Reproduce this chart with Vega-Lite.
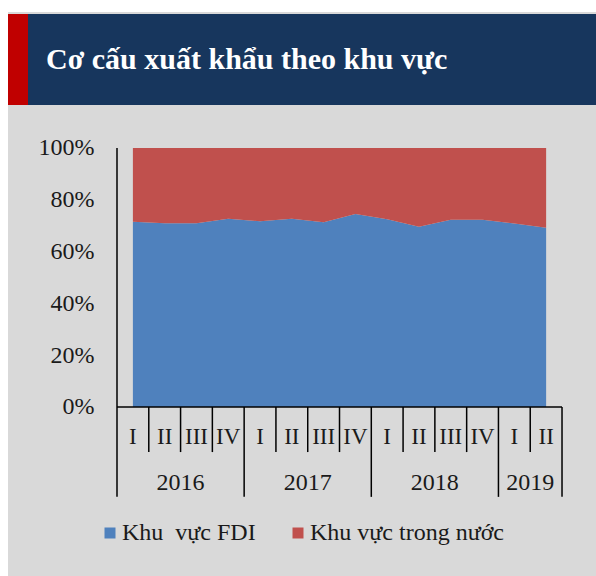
{
  "$schema": "https://vega.github.io/schema/vega-lite/v6.json",
  "background": "#ffffff",
  "padding": {"left": 8, "top": 12, "right": 0, "bottom": 0},
  "spacing": 0,
  "config": {"font": "Liberation Serif", "view": {"stroke": null}},
  "datasets": {
    "shares": [
      {"idx": 0, "year": "2016", "quarter": "I", "sector": "Khu \u00a0vực FDI", "share": 71.5},
      {"idx": 1, "year": "2016", "quarter": "II", "sector": "Khu \u00a0vực FDI", "share": 70.9},
      {"idx": 2, "year": "2016", "quarter": "III", "sector": "Khu \u00a0vực FDI", "share": 70.9},
      {"idx": 3, "year": "2016", "quarter": "IV", "sector": "Khu \u00a0vực FDI", "share": 72.7},
      {"idx": 4, "year": "2017", "quarter": "I", "sector": "Khu \u00a0vực FDI", "share": 71.7},
      {"idx": 5, "year": "2017", "quarter": "II", "sector": "Khu \u00a0vực FDI", "share": 72.7},
      {"idx": 6, "year": "2017", "quarter": "III", "sector": "Khu \u00a0vực FDI", "share": 71.3},
      {"idx": 7, "year": "2017", "quarter": "IV", "sector": "Khu \u00a0vực FDI", "share": 74.5},
      {"idx": 8, "year": "2018", "quarter": "I", "sector": "Khu \u00a0vực FDI", "share": 72.5},
      {"idx": 9, "year": "2018", "quarter": "II", "sector": "Khu \u00a0vực FDI", "share": 69.6},
      {"idx": 10, "year": "2018", "quarter": "III", "sector": "Khu \u00a0vực FDI", "share": 72.3},
      {"idx": 11, "year": "2018", "quarter": "IV", "sector": "Khu \u00a0vực FDI", "share": 72.3},
      {"idx": 12, "year": "2019", "quarter": "I", "sector": "Khu \u00a0vực FDI", "share": 70.8},
      {"idx": 13, "year": "2019", "quarter": "II", "sector": "Khu \u00a0vực FDI", "share": 69.2},
      {"idx": 0, "year": "2016", "quarter": "I", "sector": "Khu vực trong nước", "share": 28.5},
      {"idx": 1, "year": "2016", "quarter": "II", "sector": "Khu vực trong nước", "share": 29.1},
      {"idx": 2, "year": "2016", "quarter": "III", "sector": "Khu vực trong nước", "share": 29.1},
      {"idx": 3, "year": "2016", "quarter": "IV", "sector": "Khu vực trong nước", "share": 27.3},
      {"idx": 4, "year": "2017", "quarter": "I", "sector": "Khu vực trong nước", "share": 28.3},
      {"idx": 5, "year": "2017", "quarter": "II", "sector": "Khu vực trong nước", "share": 27.3},
      {"idx": 6, "year": "2017", "quarter": "III", "sector": "Khu vực trong nước", "share": 28.7},
      {"idx": 7, "year": "2017", "quarter": "IV", "sector": "Khu vực trong nước", "share": 25.5},
      {"idx": 8, "year": "2018", "quarter": "I", "sector": "Khu vực trong nước", "share": 27.5},
      {"idx": 9, "year": "2018", "quarter": "II", "sector": "Khu vực trong nước", "share": 30.4},
      {"idx": 10, "year": "2018", "quarter": "III", "sector": "Khu vực trong nước", "share": 27.7},
      {"idx": 11, "year": "2018", "quarter": "IV", "sector": "Khu vực trong nước", "share": 27.7},
      {"idx": 12, "year": "2019", "quarter": "I", "sector": "Khu vực trong nước", "share": 29.2},
      {"idx": 13, "year": "2019", "quarter": "II", "sector": "Khu vực trong nước", "share": 30.8}
    ],
    "bounds": [
      {"b": -0.5, "kind": "year"},
      {"b": 0.5, "kind": "quarter"},
      {"b": 1.5, "kind": "quarter"},
      {"b": 2.5, "kind": "quarter"},
      {"b": 3.5, "kind": "year"},
      {"b": 4.5, "kind": "quarter"},
      {"b": 5.5, "kind": "quarter"},
      {"b": 6.5, "kind": "quarter"},
      {"b": 7.5, "kind": "year"},
      {"b": 8.5, "kind": "quarter"},
      {"b": 9.5, "kind": "quarter"},
      {"b": 10.5, "kind": "quarter"},
      {"b": 11.5, "kind": "year"},
      {"b": 12.5, "kind": "quarter"},
      {"b": 13.5, "kind": "year"}
    ]
  },
  "vconcat": [
    {
      "width": 588,
      "height": 2,
      "view": {"fill": "#d9d9d9", "stroke": null},
      "data": {"values": [{}]},
      "mark": {"type": "text", "fontSize": 0},
      "encoding": {"text": {"value": ""}}
    },
    {
      "spacing": 0,
      "hconcat": [
        {
          "width": 20,
          "height": 91,
          "view": {"fill": "#c00000", "stroke": null},
          "data": {"values": [{}]},
          "mark": {"type": "text", "fontSize": 0},
          "encoding": {"text": {"value": ""}}
        },
        {
          "width": 568,
          "height": 91,
          "view": {"fill": "#17365d", "stroke": null},
          "title": {
            "text": "Cơ cấu xuất khẩu theo khu vực",
            "anchor": "start",
            "frame": "group",
            "orient": "top",
            "offset": -85,
            "dx": 18,
            "baseline": "alphabetic",
            "color": "#ffffff",
            "font": "Liberation Serif",
            "fontSize": 30,
            "fontWeight": "bold"
          },
          "data": {"values": [{}]},
          "mark": {"type": "text", "fontSize": 0},
          "encoding": {"text": {"value": ""}}
        }
      ]
    },
    {
      "width": 588,
      "height": 471,
      "view": {"fill": "#d9d9d9", "stroke": null},
      "layer": [
        {
          "data": {"name": "shares"},
          "mark": {"type": "area", "interpolate": "linear"},
          "encoding": {
            "x": {"field": "idx", "type": "quantitative", "scale": {"domain": [-3.929, 14.569], "nice": false, "zero": false}, "axis": null},
            "y": {
              "field": "share", "type": "quantitative", "stack": "zero",
              "scale": {"domain": [-65.25, 116.6], "nice": false, "zero": false},
              "axis": {
                "offset": -109, "values": [0, 20, 40, 60, 80, 100],
                "labelExpr": "datum.value + '%'",
                "domain": false, "ticks": false, "tickSize": 0, "grid": false, "title": null,
                "labelFont": "Liberation Serif", "labelFontSize": 24, "labelColor": "#1a1a1a",
                "labelPadding": 23, "labelFlush": false, "labelOverlap": false, "labelBaseline": "middle"
              }
            },
            "color": {
              "field": "sector", "type": "nominal",
              "scale": {"domain": ["Khu \u00a0vực FDI", "Khu vực trong nước"], "range": ["#4f81bd", "#c0504d"]},
              "legend": {
                "orient": "none", "legendX": 90, "legendY": 509, "direction": "horizontal",
                "title": null, "symbolType": "square", "symbolSize": 121, "symbolStrokeWidth": 0,
                "symbolOpacity": 1,
                "labelFont": "Liberation Serif", "labelFontSize": 24, "labelColor": "#1a1a1a",
                "labelOffset": 0, "columnPadding": 30, "padding": 0, "labelLimit": 400
              }
            },
            "order": {"field": "sector", "sort": "descending"}
          }
        },
        {
          "data": {"name": "bounds"},
          "transform": [{"filter": "datum.kind == 'quarter'"}],
          "mark": {"type": "rule", "color": "#000000", "strokeWidth": 1.5},
          "encoding": {
            "x": {"field": "b", "type": "quantitative", "axis": null},
            "y": {"datum": 0, "type": "quantitative"},
            "y2": {"datum": -17.4}
          }
        },
        {
          "data": {"name": "bounds"},
          "transform": [{"filter": "datum.kind == 'year'"}],
          "mark": {"type": "rule", "color": "#000000", "strokeWidth": 1.5},
          "encoding": {
            "x": {"field": "b", "type": "quantitative", "axis": null},
            "y": {"datum": 0, "type": "quantitative"},
            "y2": {"datum": -34.7}
          }
        },
        {
          "data": {"values": [{}]},
          "mark": {"type": "rule", "color": "#000000", "strokeWidth": 1.5},
          "encoding": {
            "x": {"datum": -0.5, "type": "quantitative", "axis": null},
            "y": {"datum": 100, "type": "quantitative"},
            "y2": {"datum": 0}
          }
        },
        {
          "data": {"values": [{}]},
          "mark": {"type": "rule", "color": "#000000", "strokeWidth": 1.5},
          "encoding": {
            "x": {"datum": -0.5, "type": "quantitative", "axis": null},
            "x2": {"datum": 13.5},
            "y": {"datum": 0, "type": "quantitative"}
          }
        },
        {
          "data": {"name": "shares"},
          "transform": [{"filter": "datum.sector == 'Khu vực trong nước'"}],
          "mark": {"type": "text", "font": "Liberation Serif", "fontSize": 23, "baseline": "middle", "align": "center", "color": "#1a1a1a"},
          "encoding": {
            "x": {"field": "idx", "type": "quantitative", "axis": null},
            "y": {"datum": -11.5, "type": "quantitative"},
            "text": {"field": "quarter"}
          }
        },
        {
          "data": {"name": "shares"},
          "transform": [
            {"filter": "datum.sector == 'Khu vực trong nước'"},
            {"aggregate": [{"op": "mean", "field": "idx", "as": "center"}], "groupby": ["year"]}
          ],
          "mark": {"type": "text", "font": "Liberation Serif", "fontSize": 24, "baseline": "middle", "align": "center", "color": "#1a1a1a"},
          "encoding": {
            "x": {"field": "center", "type": "quantitative", "axis": null},
            "y": {"datum": -29.2, "type": "quantitative"},
            "text": {"field": "year"}
          }
        }
      ]
    }
  ]
}
